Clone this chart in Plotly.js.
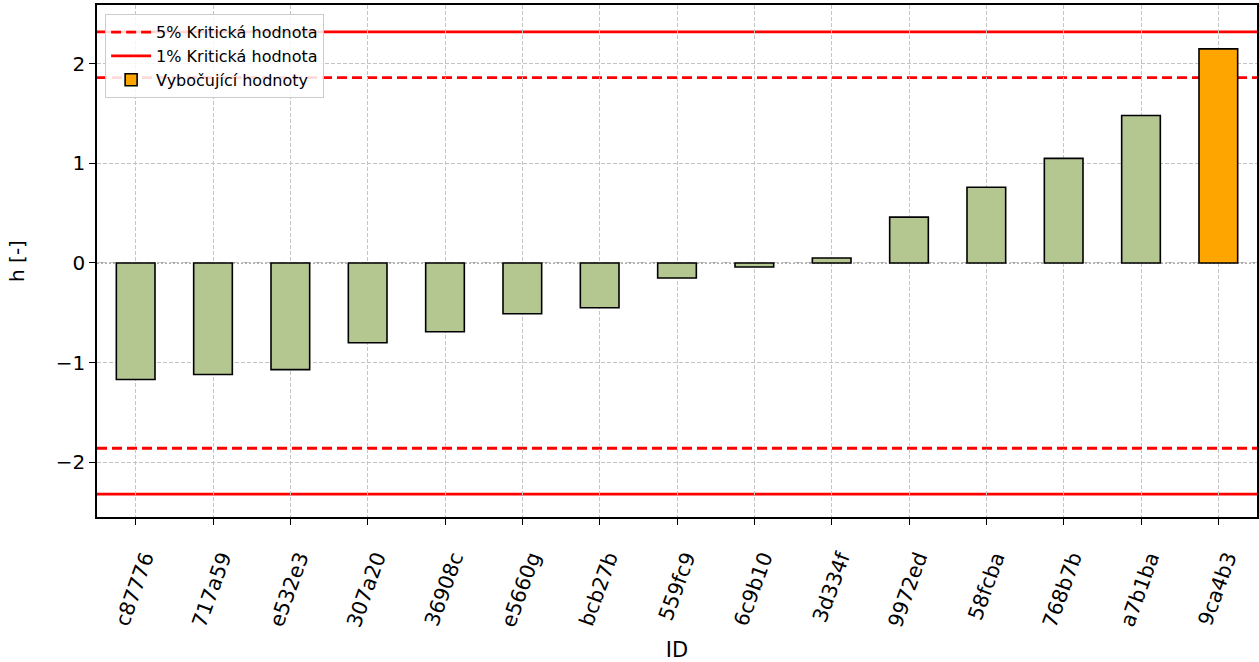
<!DOCTYPE html>
<html>
<head>
<meta charset="utf-8">
<script src="https://cdn.plot.ly/plotly-3.0.1.min.js"></script>
<style>
  html, body { margin: 0; padding: 0; background: #fff; }
  #chart { width: 1259px; height: 662px; }
</style>
</head>
<body>
<div id="chart"></div>
<script>
// Data
const ids = ['c87776', '717a59', 'e532e3', '307a20', '36908c', 'e5660g', 'bcb27b',
             '559fc9', '6c9b10', '3d334f', '9972ed', '58fcba', '768b7b', 'a7b1ba', '9ca4b3'];
const hValues = [-1.17, -1.12, -1.07, -0.80, -0.69, -0.51, -0.45,
                 -0.15, -0.04, 0.05, 0.46, 0.76, 1.05, 1.48, 2.15];
const crit5 = 1.86;
const crit1 = 2.32;
const legendNames = ['5% Kritická hodnota', '1% Kritická hodnota', 'Vybočující hodnoty'];

// Split into normal values and outliers
const isOutlier = hValues.map(v => Math.abs(v) > crit5);
const normalY = hValues.map((v, i) => isOutlier[i] ? null : v);
const outlierY = hValues.map((v, i) => isOutlier[i] ? v : null);

const font = 'DejaVu Sans, sans-serif';

const normalBars = {
    x: ids,
    y: normalY,
    type: 'bar',
    width: 0.5,
    marker: { color: '#b5c791', line: { color: '#000', width: 1.6 } },
    showlegend: false,
    hoverinfo: 'x+y'
};

const outlierBars = {
    x: ids,
    y: outlierY,
    type: 'bar',
    width: 0.5,
    name: legendNames[2],
    marker: { color: '#ffa500', line: { color: '#000', width: 1.6 } },
    legendrank: 3
};

// Critical value lines as shapes
function hline(y, dash, name, show, rank) {
    return {
        type: 'line',
        xref: 'paper', x0: 0, x1: 1,
        yref: 'y', y0: y, y1: y,
        line: { color: '#ff0000', width: 2.8, dash: dash },
        layer: 'between',
        name: name,
        showlegend: show,
        legendrank: rank
    };
}

const shapes = [
    hline(crit5, '10px,5px', legendNames[0], true, 1),
    hline(-crit5, '10px,5px', legendNames[0], false, 1),
    hline(crit1, 'solid', legendNames[1], true, 2),
    hline(-crit1, 'solid', legendNames[1], false, 2),
    {
        type: 'line',
        xref: 'paper', x0: 0, x1: 1,
        yref: 'y', y0: 0, y1: 0,
        line: { color: '#444', width: 0.9, dash: '2px,2px' },
        layer: 'between'
    }
];

const layout = {
    width: 1259,
    height: 662,
    margin: { l: 97, r: 2, t: 5, b: 145 },
    paper_bgcolor: '#fff',
    plot_bgcolor: '#fff',
    font: { family: font, size: 20, color: '#000' },
    barmode: 'overlay',
    xaxis: {
        type: 'category',
        range: [-0.5, 14.5],
        tickangle: -70,
        ticklabelshift: 9,
        ticklabelstandoff: 13,
        ticks: 'outside',
        ticklen: 6,
        tickwidth: 1.2,
        tickcolor: '#000',
        showgrid: true,
        gridcolor: '#c4c4c4',
        griddash: '4px,2px',
        gridwidth: 0.9,
        showline: true,
        mirror: true,
        linecolor: '#000',
        linewidth: 1.5,
        tickfont: { size: 20.5 },
        title: { text: 'ID', font: { size: 21 }, standoff: 16 }
    },
    yaxis: {
        range: [-2.55, 2.59],
        tickvals: [-2, -1, 0, 1, 2],
        ticktext: ['\u22122', '\u22121', '0', '1', '2'],
        ticks: 'outside',
        ticklen: 6,
        tickwidth: 1.2,
        tickcolor: '#000',
        showgrid: true,
        gridcolor: '#c4c4c4',
        griddash: '4px,2px',
        gridwidth: 0.9,
        zeroline: false,
        showline: true,
        mirror: true,
        linecolor: '#000',
        linewidth: 1.5,
        tickfont: { size: 20 },
        title: { text: 'h [-]', font: { size: 20 }, standoff: 26 }
    },
    legend: {
        x: 0.007,
        y: 0.982,
        xanchor: 'left',
        yanchor: 'top',
        bgcolor: 'rgba(255,255,255,0.85)',
        bordercolor: '#cccccc',
        borderwidth: 1,
        font: { size: 16 },
        itemwidth: 40,
        tracegroupgap: 0
    },
    shapes: shapes
};

Plotly.newPlot('chart', [normalBars, outlierBars], layout, { displayModeBar: false });
</script>
</body>
</html>
